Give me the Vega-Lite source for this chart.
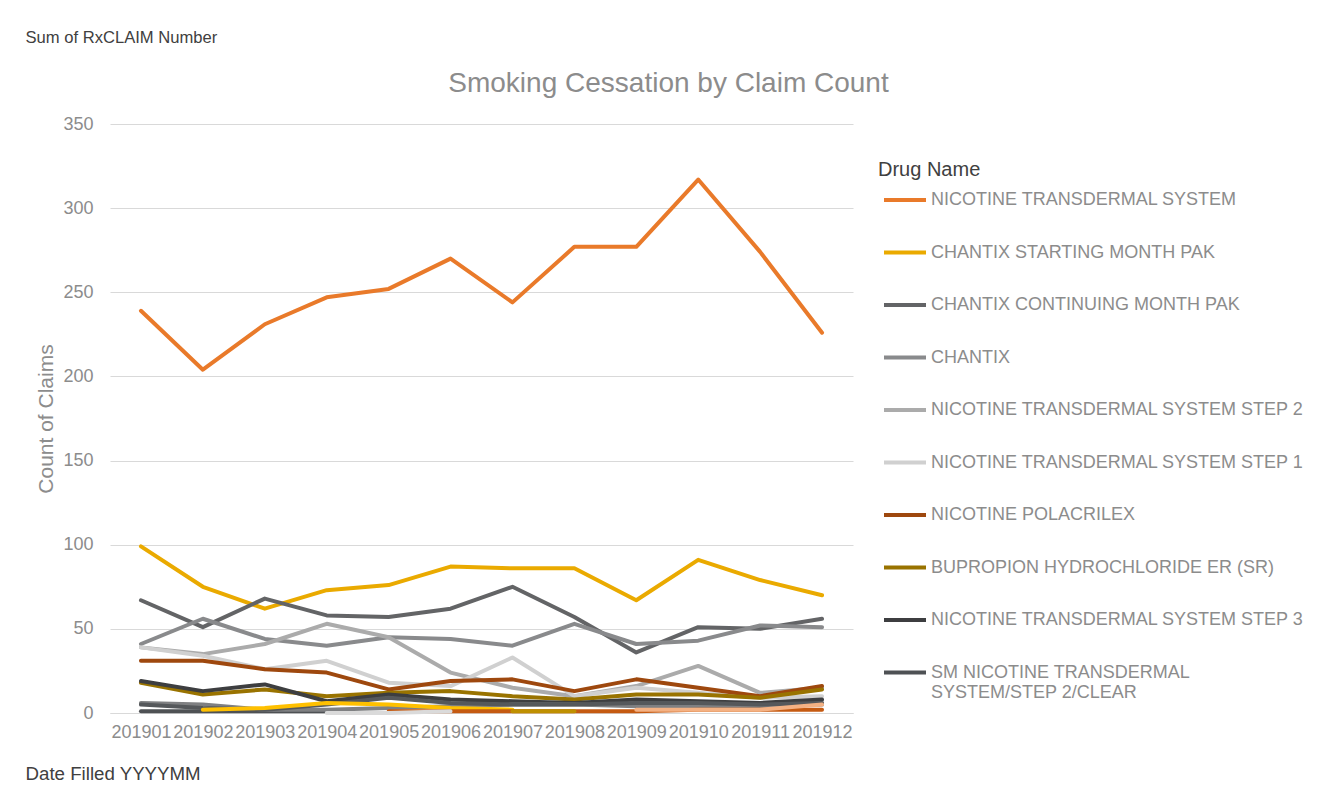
{
  "$schema": "https://vega.github.io/schema/vega-lite/v6.json",
  "width": 743,
  "height": 589,
  "autosize": "none",
  "padding": {"left": 110, "top": 124, "right": 464, "bottom": 78},
  "background": "white",
  "config": {"view": {"stroke": null}, "font": "Liberation Sans"},
  "data": {"values": [
    {"m": "201901", "drug": "NICOTINE TRANSDERMAL SYSTEM", "n": 239},
    {"m": "201902", "drug": "NICOTINE TRANSDERMAL SYSTEM", "n": 204},
    {"m": "201903", "drug": "NICOTINE TRANSDERMAL SYSTEM", "n": 231},
    {"m": "201904", "drug": "NICOTINE TRANSDERMAL SYSTEM", "n": 247},
    {"m": "201905", "drug": "NICOTINE TRANSDERMAL SYSTEM", "n": 252},
    {"m": "201906", "drug": "NICOTINE TRANSDERMAL SYSTEM", "n": 270},
    {"m": "201907", "drug": "NICOTINE TRANSDERMAL SYSTEM", "n": 244},
    {"m": "201908", "drug": "NICOTINE TRANSDERMAL SYSTEM", "n": 277},
    {"m": "201909", "drug": "NICOTINE TRANSDERMAL SYSTEM", "n": 277},
    {"m": "201910", "drug": "NICOTINE TRANSDERMAL SYSTEM", "n": 317},
    {"m": "201911", "drug": "NICOTINE TRANSDERMAL SYSTEM", "n": 274},
    {"m": "201912", "drug": "NICOTINE TRANSDERMAL SYSTEM", "n": 226},
    {"m": "201901", "drug": "CHANTIX STARTING MONTH PAK", "n": 99},
    {"m": "201902", "drug": "CHANTIX STARTING MONTH PAK", "n": 75},
    {"m": "201903", "drug": "CHANTIX STARTING MONTH PAK", "n": 62},
    {"m": "201904", "drug": "CHANTIX STARTING MONTH PAK", "n": 73},
    {"m": "201905", "drug": "CHANTIX STARTING MONTH PAK", "n": 76},
    {"m": "201906", "drug": "CHANTIX STARTING MONTH PAK", "n": 87},
    {"m": "201907", "drug": "CHANTIX STARTING MONTH PAK", "n": 86},
    {"m": "201908", "drug": "CHANTIX STARTING MONTH PAK", "n": 86},
    {"m": "201909", "drug": "CHANTIX STARTING MONTH PAK", "n": 67},
    {"m": "201910", "drug": "CHANTIX STARTING MONTH PAK", "n": 91},
    {"m": "201911", "drug": "CHANTIX STARTING MONTH PAK", "n": 79},
    {"m": "201912", "drug": "CHANTIX STARTING MONTH PAK", "n": 70},
    {"m": "201901", "drug": "CHANTIX CONTINUING MONTH PAK", "n": 67},
    {"m": "201902", "drug": "CHANTIX CONTINUING MONTH PAK", "n": 51},
    {"m": "201903", "drug": "CHANTIX CONTINUING MONTH PAK", "n": 68},
    {"m": "201904", "drug": "CHANTIX CONTINUING MONTH PAK", "n": 58},
    {"m": "201905", "drug": "CHANTIX CONTINUING MONTH PAK", "n": 57},
    {"m": "201906", "drug": "CHANTIX CONTINUING MONTH PAK", "n": 62},
    {"m": "201907", "drug": "CHANTIX CONTINUING MONTH PAK", "n": 75},
    {"m": "201908", "drug": "CHANTIX CONTINUING MONTH PAK", "n": 57},
    {"m": "201909", "drug": "CHANTIX CONTINUING MONTH PAK", "n": 36},
    {"m": "201910", "drug": "CHANTIX CONTINUING MONTH PAK", "n": 51},
    {"m": "201911", "drug": "CHANTIX CONTINUING MONTH PAK", "n": 50},
    {"m": "201912", "drug": "CHANTIX CONTINUING MONTH PAK", "n": 56},
    {"m": "201901", "drug": "CHANTIX", "n": 41},
    {"m": "201902", "drug": "CHANTIX", "n": 56},
    {"m": "201903", "drug": "CHANTIX", "n": 44},
    {"m": "201904", "drug": "CHANTIX", "n": 40},
    {"m": "201905", "drug": "CHANTIX", "n": 45},
    {"m": "201906", "drug": "CHANTIX", "n": 44},
    {"m": "201907", "drug": "CHANTIX", "n": 40},
    {"m": "201908", "drug": "CHANTIX", "n": 53},
    {"m": "201909", "drug": "CHANTIX", "n": 41},
    {"m": "201910", "drug": "CHANTIX", "n": 43},
    {"m": "201911", "drug": "CHANTIX", "n": 52},
    {"m": "201912", "drug": "CHANTIX", "n": 51},
    {"m": "201901", "drug": "NICOTINE TRANSDERMAL SYSTEM STEP 2", "n": 39},
    {"m": "201902", "drug": "NICOTINE TRANSDERMAL SYSTEM STEP 2", "n": 35},
    {"m": "201903", "drug": "NICOTINE TRANSDERMAL SYSTEM STEP 2", "n": 41},
    {"m": "201904", "drug": "NICOTINE TRANSDERMAL SYSTEM STEP 2", "n": 53},
    {"m": "201905", "drug": "NICOTINE TRANSDERMAL SYSTEM STEP 2", "n": 45},
    {"m": "201906", "drug": "NICOTINE TRANSDERMAL SYSTEM STEP 2", "n": 24},
    {"m": "201907", "drug": "NICOTINE TRANSDERMAL SYSTEM STEP 2", "n": 15},
    {"m": "201908", "drug": "NICOTINE TRANSDERMAL SYSTEM STEP 2", "n": 10},
    {"m": "201909", "drug": "NICOTINE TRANSDERMAL SYSTEM STEP 2", "n": 16},
    {"m": "201910", "drug": "NICOTINE TRANSDERMAL SYSTEM STEP 2", "n": 28},
    {"m": "201911", "drug": "NICOTINE TRANSDERMAL SYSTEM STEP 2", "n": 12},
    {"m": "201912", "drug": "NICOTINE TRANSDERMAL SYSTEM STEP 2", "n": 15},
    {"m": "201901", "drug": "NICOTINE TRANSDERMAL SYSTEM STEP 1", "n": 39},
    {"m": "201902", "drug": "NICOTINE TRANSDERMAL SYSTEM STEP 1", "n": 34},
    {"m": "201903", "drug": "NICOTINE TRANSDERMAL SYSTEM STEP 1", "n": 26},
    {"m": "201904", "drug": "NICOTINE TRANSDERMAL SYSTEM STEP 1", "n": 31},
    {"m": "201905", "drug": "NICOTINE TRANSDERMAL SYSTEM STEP 1", "n": 18},
    {"m": "201906", "drug": "NICOTINE TRANSDERMAL SYSTEM STEP 1", "n": 16},
    {"m": "201907", "drug": "NICOTINE TRANSDERMAL SYSTEM STEP 1", "n": 33},
    {"m": "201908", "drug": "NICOTINE TRANSDERMAL SYSTEM STEP 1", "n": 10},
    {"m": "201909", "drug": "NICOTINE TRANSDERMAL SYSTEM STEP 1", "n": 15},
    {"m": "201910", "drug": "NICOTINE TRANSDERMAL SYSTEM STEP 1", "n": 12},
    {"m": "201911", "drug": "NICOTINE TRANSDERMAL SYSTEM STEP 1", "n": 9},
    {"m": "201912", "drug": "NICOTINE TRANSDERMAL SYSTEM STEP 1", "n": 10},
    {"m": "201901", "drug": "NICOTINE POLACRILEX", "n": 31},
    {"m": "201902", "drug": "NICOTINE POLACRILEX", "n": 31},
    {"m": "201903", "drug": "NICOTINE POLACRILEX", "n": 26},
    {"m": "201904", "drug": "NICOTINE POLACRILEX", "n": 24},
    {"m": "201905", "drug": "NICOTINE POLACRILEX", "n": 14},
    {"m": "201906", "drug": "NICOTINE POLACRILEX", "n": 19},
    {"m": "201907", "drug": "NICOTINE POLACRILEX", "n": 20},
    {"m": "201908", "drug": "NICOTINE POLACRILEX", "n": 13},
    {"m": "201909", "drug": "NICOTINE POLACRILEX", "n": 20},
    {"m": "201910", "drug": "NICOTINE POLACRILEX", "n": 15},
    {"m": "201911", "drug": "NICOTINE POLACRILEX", "n": 10},
    {"m": "201912", "drug": "NICOTINE POLACRILEX", "n": 16},
    {"m": "201901", "drug": "BUPROPION HYDROCHLORIDE ER (SR)", "n": 18},
    {"m": "201902", "drug": "BUPROPION HYDROCHLORIDE ER (SR)", "n": 11},
    {"m": "201903", "drug": "BUPROPION HYDROCHLORIDE ER (SR)", "n": 14},
    {"m": "201904", "drug": "BUPROPION HYDROCHLORIDE ER (SR)", "n": 10},
    {"m": "201905", "drug": "BUPROPION HYDROCHLORIDE ER (SR)", "n": 12},
    {"m": "201906", "drug": "BUPROPION HYDROCHLORIDE ER (SR)", "n": 13},
    {"m": "201907", "drug": "BUPROPION HYDROCHLORIDE ER (SR)", "n": 10},
    {"m": "201908", "drug": "BUPROPION HYDROCHLORIDE ER (SR)", "n": 8},
    {"m": "201909", "drug": "BUPROPION HYDROCHLORIDE ER (SR)", "n": 11},
    {"m": "201910", "drug": "BUPROPION HYDROCHLORIDE ER (SR)", "n": 11},
    {"m": "201911", "drug": "BUPROPION HYDROCHLORIDE ER (SR)", "n": 9},
    {"m": "201912", "drug": "BUPROPION HYDROCHLORIDE ER (SR)", "n": 14},
    {"m": "201901", "drug": "NICOTINE TRANSDERMAL SYSTEM STEP 3", "n": 19},
    {"m": "201902", "drug": "NICOTINE TRANSDERMAL SYSTEM STEP 3", "n": 13},
    {"m": "201903", "drug": "NICOTINE TRANSDERMAL SYSTEM STEP 3", "n": 17},
    {"m": "201904", "drug": "NICOTINE TRANSDERMAL SYSTEM STEP 3", "n": 7},
    {"m": "201905", "drug": "NICOTINE TRANSDERMAL SYSTEM STEP 3", "n": 11},
    {"m": "201906", "drug": "NICOTINE TRANSDERMAL SYSTEM STEP 3", "n": 8},
    {"m": "201907", "drug": "NICOTINE TRANSDERMAL SYSTEM STEP 3", "n": 7},
    {"m": "201908", "drug": "NICOTINE TRANSDERMAL SYSTEM STEP 3", "n": 6},
    {"m": "201909", "drug": "NICOTINE TRANSDERMAL SYSTEM STEP 3", "n": 8},
    {"m": "201910", "drug": "NICOTINE TRANSDERMAL SYSTEM STEP 3", "n": 7},
    {"m": "201911", "drug": "NICOTINE TRANSDERMAL SYSTEM STEP 3", "n": 6},
    {"m": "201912", "drug": "NICOTINE TRANSDERMAL SYSTEM STEP 3", "n": 8},
    {"m": "201901", "drug": "SM NICOTINE TRANSDERMAL SYSTEM/STEP 2/CLEAR", "n": 1},
    {"m": "201902", "drug": "SM NICOTINE TRANSDERMAL SYSTEM/STEP 2/CLEAR", "n": 1},
    {"m": "201903", "drug": "SM NICOTINE TRANSDERMAL SYSTEM/STEP 2/CLEAR", "n": 1},
    {"m": "201904", "drug": "SM NICOTINE TRANSDERMAL SYSTEM/STEP 2/CLEAR", "n": 1},
    {"m": "201901", "drug": "NICOTINE GUM", "n": 6},
    {"m": "201902", "drug": "NICOTINE GUM", "n": 5},
    {"m": "201903", "drug": "NICOTINE GUM", "n": 2},
    {"m": "201904", "drug": "NICOTINE GUM", "n": 2},
    {"m": "201905", "drug": "NICOTINE GUM", "n": 3},
    {"m": "201906", "drug": "NICOTINE GUM", "n": 4},
    {"m": "201907", "drug": "NICOTINE GUM", "n": 5},
    {"m": "201908", "drug": "NICOTINE GUM", "n": 5},
    {"m": "201909", "drug": "NICOTINE GUM", "n": 4},
    {"m": "201910", "drug": "NICOTINE GUM", "n": 4},
    {"m": "201911", "drug": "NICOTINE GUM", "n": 4},
    {"m": "201912", "drug": "NICOTINE GUM", "n": 5},
    {"m": "201901", "drug": "NICOTINE LOZENGE", "n": 5},
    {"m": "201902", "drug": "NICOTINE LOZENGE", "n": 3},
    {"m": "201903", "drug": "NICOTINE LOZENGE", "n": 2},
    {"m": "201904", "drug": "NICOTINE LOZENGE", "n": 5},
    {"m": "201905", "drug": "NICOTINE LOZENGE", "n": 9},
    {"m": "201906", "drug": "NICOTINE LOZENGE", "n": 6},
    {"m": "201907", "drug": "NICOTINE LOZENGE", "n": 5},
    {"m": "201908", "drug": "NICOTINE LOZENGE", "n": 5},
    {"m": "201909", "drug": "NICOTINE LOZENGE", "n": 6},
    {"m": "201910", "drug": "NICOTINE LOZENGE", "n": 6},
    {"m": "201911", "drug": "NICOTINE LOZENGE", "n": 5},
    {"m": "201912", "drug": "NICOTINE LOZENGE", "n": 6},
    {"m": "201902", "drug": "CHANTIX 0.5 MG", "n": 2},
    {"m": "201903", "drug": "CHANTIX 0.5 MG", "n": 3},
    {"m": "201904", "drug": "CHANTIX 0.5 MG", "n": 6},
    {"m": "201905", "drug": "CHANTIX 0.5 MG", "n": 5},
    {"m": "201906", "drug": "CHANTIX 0.5 MG", "n": 3},
    {"m": "201907", "drug": "CHANTIX 0.5 MG", "n": 2},
    {"m": "201905", "drug": "NICOTINE MINI LOZENGE", "n": 1},
    {"m": "201906", "drug": "NICOTINE MINI LOZENGE", "n": 1},
    {"m": "201907", "drug": "NICOTINE MINI LOZENGE", "n": 1},
    {"m": "201908", "drug": "NICOTINE MINI LOZENGE", "n": 1},
    {"m": "201909", "drug": "NICOTINE MINI LOZENGE", "n": 1},
    {"m": "201910", "drug": "NICOTINE MINI LOZENGE", "n": 2},
    {"m": "201911", "drug": "NICOTINE MINI LOZENGE", "n": 2},
    {"m": "201912", "drug": "NICOTINE MINI LOZENGE", "n": 2},
    {"m": "201907", "drug": "BUPROPION HYDROCHLORIDE ER (XL)", "n": 1},
    {"m": "201908", "drug": "BUPROPION HYDROCHLORIDE ER (XL)", "n": 1},
    {"m": "201909", "drug": "NICOTROL INHALER", "n": 2},
    {"m": "201910", "drug": "NICOTROL INHALER", "n": 2},
    {"m": "201911", "drug": "NICOTROL INHALER", "n": 2},
    {"m": "201912", "drug": "NICOTROL INHALER", "n": 5},
    {"m": "201904", "drug": "NICOTROL NS", "n": 0},
    {"m": "201905", "drug": "NICOTROL NS", "n": 0},
    {"m": "201906", "drug": "NICOTROL NS", "n": 1}
  ]},
  "layer": [
    {
      "mark": {"type": "line", "strokeWidth": 4, "strokeCap": "round", "strokeJoin": "round"},
      "encoding": {
        "x": {"field": "m", "type": "ordinal", "sort": "ascending",
          "scale": {"type": "point", "padding": 0.5},
          "axis": {"orient": "bottom", "labelAngle": 0, "labelOverlap": false, "labelFontSize": 18, "labelColor": "#8C8C8C", "labelPadding": 10,
            "ticks": false, "grid": false, "domainColor": "#D9D9D9", "domainWidth": 1,
            "title": "Date Filled YYYYMM", "titleFontSize": 18.7, "titleFontWeight": "normal", "titleColor": "#404040",
            "titleAnchor": "start", "titleAlign": "left", "titleBaseline": "middle", "titleX": -85, "titleY": 60}},
        "y": {"field": "n", "type": "quantitative", "scale": {"domain": [0, 350]},
          "axis": {"values": [0, 50, 100, 150, 200, 250, 300, 350], "labelFontSize": 18, "labelColor": "#8C8C8C", "labelPadding": 17,
            "ticks": false, "domain": false, "gridColor": "#D9D9D9", "gridWidth": 1,
            "title": "Count of Claims", "titleFontSize": 21, "titleFontWeight": "normal", "titleColor": "#8C8C8C", "titlePadding": 6}},
        "color": {"field": "drug", "type": "nominal",
          "scale": {
            "domain": ["NICOTINE TRANSDERMAL SYSTEM", "CHANTIX STARTING MONTH PAK", "CHANTIX CONTINUING MONTH PAK", "CHANTIX", "NICOTINE TRANSDERMAL SYSTEM STEP 2", "NICOTINE TRANSDERMAL SYSTEM STEP 1", "NICOTINE POLACRILEX", "BUPROPION HYDROCHLORIDE ER (SR)", "NICOTINE TRANSDERMAL SYSTEM STEP 3", "SM NICOTINE TRANSDERMAL SYSTEM/STEP 2/CLEAR", "NICOTINE GUM", "NICOTINE LOZENGE", "CHANTIX 0.5 MG", "NICOTINE MINI LOZENGE", "BUPROPION HYDROCHLORIDE ER (XL)", "NICOTROL INHALER", "NICOTROL NS"],
            "range": ["#E97A2A", "#EAAA00", "#636466", "#898A8C", "#ABABAB", "#D0D0D0", "#9E480E", "#997300", "#3D3E40", "#4E5154", "#7F8082", "#55585B", "#FFC000", "#C55A11", "#BF9000", "#F4B183", "#DADADA"]},
          "legend": {
            "values": ["NICOTINE TRANSDERMAL SYSTEM", "CHANTIX STARTING MONTH PAK", "CHANTIX CONTINUING MONTH PAK", "CHANTIX", "NICOTINE TRANSDERMAL SYSTEM STEP 2", "NICOTINE TRANSDERMAL SYSTEM STEP 1", "NICOTINE POLACRILEX", "BUPROPION HYDROCHLORIDE ER (SR)", "NICOTINE TRANSDERMAL SYSTEM STEP 3", "SM NICOTINE TRANSDERMAL SYSTEM/STEP 2/CLEAR"],
            "orient": "none", "legendX": 768, "legendY": 36, "padding": 0,
            "title": "Drug Name", "titleFontSize": 20, "titleFontWeight": "normal", "titleColor": "#404040", "titlePadding": -3,
            "labelFontSize": 18, "labelColor": "#8C8C8C", "labelLimit": 420, "labelOffset": 3,
            "labelExpr": "datum.label == 'SM NICOTINE TRANSDERMAL SYSTEM/STEP 2/CLEAR' ? ['SM NICOTINE TRANSDERMAL', 'SYSTEM/STEP 2/CLEAR'] : datum.label",
            "symbolType": "stroke", "symbolStrokeWidth": 4, "symbolSize": 1764, "symbolOffset": 4,
            "rowPadding": 20.5}}
      }
    },
    {
      "mark": {"type": "point", "opacity": 0},
      "encoding": {
        "x": {"field": "m", "type": "ordinal", "sort": "ascending",
          "axis": {"orient": "top", "labels": false, "ticks": false, "domain": false, "grid": false,
            "title": "Smoking Cessation by Claim Count", "titleFontSize": 28, "titleFontWeight": "normal", "titleColor": "#8C8C8C",
            "titleAnchor": "start", "titleAlign": "center", "titleBaseline": "middle", "titleX": 558, "titleY": -41}},
        "y": {"field": "n", "type": "quantitative",
          "axis": {"orient": "right", "labels": false, "ticks": false, "domain": false, "grid": false,
            "title": "Sum of RxCLAIM Number", "titleAngle": 0, "titleFontSize": 16.6, "titleFontWeight": "normal", "titleColor": "#404040",
            "titleAnchor": "start", "titleAlign": "left", "titleBaseline": "middle", "titleX": -828, "titleY": -87}}
      }
    }
  ],
  "resolve": {"axis": {"x": "independent", "y": "independent"}}
}
